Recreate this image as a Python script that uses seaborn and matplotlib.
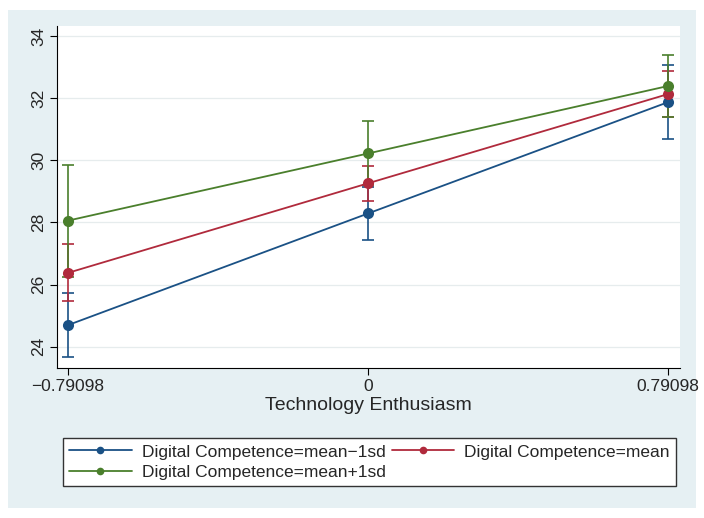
import matplotlib
matplotlib.use("Agg")
import matplotlib.pyplot as plt
from matplotlib.patches import Rectangle
from matplotlib.lines import Line2D
import seaborn as sns
import pandas as pd

# ---- data ----
x_levels = [-0.79098, 0.0, 0.79098]
x_ticklabels = ["\u22120.79098", "0", "0.79098"]
groups = ["Digital Competence=mean\u22121sd",
          "Digital Competence=mean",
          "Digital Competence=mean+1sd"]
means_low = [24.70, 28.29, 31.87]
means_mid = [26.38, 29.26, 32.13]
means_high = [28.06, 30.22, 32.39]
lo_low = [23.68, 27.44, 30.70]
hi_low = [25.74, 29.15, 33.05]
lo_mid = [25.48, 28.70, 31.38]
hi_mid = [27.30, 29.83, 32.86]
lo_high = [26.26, 29.20, 31.38]
hi_high = [29.85, 31.25, 33.40]
y_ticks = [24, 26, 28, 30, 32, 34]

colors = ["#1a5185", "#b02a3c", "#4a7f2c"]

rows = []
for g, m, lo, hi in zip(groups,
                        [means_low, means_mid, means_high],
                        [lo_low, lo_mid, lo_high],
                        [hi_low, hi_mid, hi_high]):
    for xv, mv, l, h in zip(x_levels, m, lo, hi):
        rows.append({"x": xv, "y": mv, "lo": l, "hi": h, "group": g})
df = pd.DataFrame(rows)

sns.set_style("white")
plt.rcParams["font.family"] = ["Liberation Sans", "DejaVu Sans"]

fig = plt.figure(figsize=(7.04, 5.18), dpi=100, facecolor="white")
# light blue graph region
bg = fig.add_axes([8 / 704, 1 - 508 / 518, 688 / 704, 498 / 518], zorder=-5)
bg.set_facecolor("#e6f0f3")
bg.set_xticks([])
bg.set_yticks([])
for s in bg.spines.values():
    s.set_visible(False)

ax = fig.add_axes([57 / 704, 1 - 368 / 518, 623 / 704, 342 / 518], zorder=1)
ax.set_facecolor("white")

# error bars
for g, c in zip(groups, colors):
    d = df[df.group == g]
    ax.errorbar(d.x, d.y, yerr=[d.y - d.lo, d.hi - d.y], fmt="none",
                ecolor=c, elinewidth=1.2, capsize=4, capthick=1.2, zorder=2)

sns.lineplot(data=df, x="x", y="y", hue="group", hue_order=groups,
             palette=colors, marker="o", markersize=8, markeredgewidth=0,
             linewidth=1.3, ax=ax, legend=False, zorder=3)

ax.set_xlim(-0.8200, 0.8226)
ax.set_ylim(23.32, 34.32)
ax.set_xticks(x_levels)
ax.set_xticklabels(x_ticklabels, fontsize=12.5)
ax.set_yticks(y_ticks)
ax.set_yticklabels([str(v) for v in y_ticks], fontsize=12.5, rotation=90,
                   va="center")
ax.tick_params(axis="both", direction="out", length=5, width=0.8,
               color="black", pad=3, left=True, bottom=True)
ax.yaxis.grid(True, color="#e6eced", linewidth=0.9)
ax.xaxis.grid(False)
for s in ["top", "right"]:
    ax.spines[s].set_visible(False)
for s in ["left", "bottom"]:
    ax.spines[s].set_color("black")
    ax.spines[s].set_linewidth(0.8)
ax.set_xlabel("Technology Enthusiasm", fontsize=14, labelpad=2)
ax.set_ylabel("")

# legend
handles = [Line2D([], [], color=c, marker="o", markersize=5.5, linewidth=1.3,
                  markeredgewidth=0) for c in colors]
order = [0, 2, 1]
leg = fig.legend([handles[i] for i in order], [groups[i] for i in order],
                 ncol=2, loc="lower left",
                 bbox_to_anchor=(63 / 704, 1 - 486 / 518, 613 / 704, 57 / 518),
                 mode="expand", frameon=True, fancybox=False,
                 edgecolor="#333333", facecolor="white", framealpha=1,
                 fontsize=12.5,
                 handlelength=3.6, handletextpad=0.6, borderpad=0.35,
                 labelspacing=0.3, columnspacing=0.5, borderaxespad=0)
leg.get_frame().set_linewidth(1.0)

fig.savefig("out.png", dpi=100, facecolor="white")
